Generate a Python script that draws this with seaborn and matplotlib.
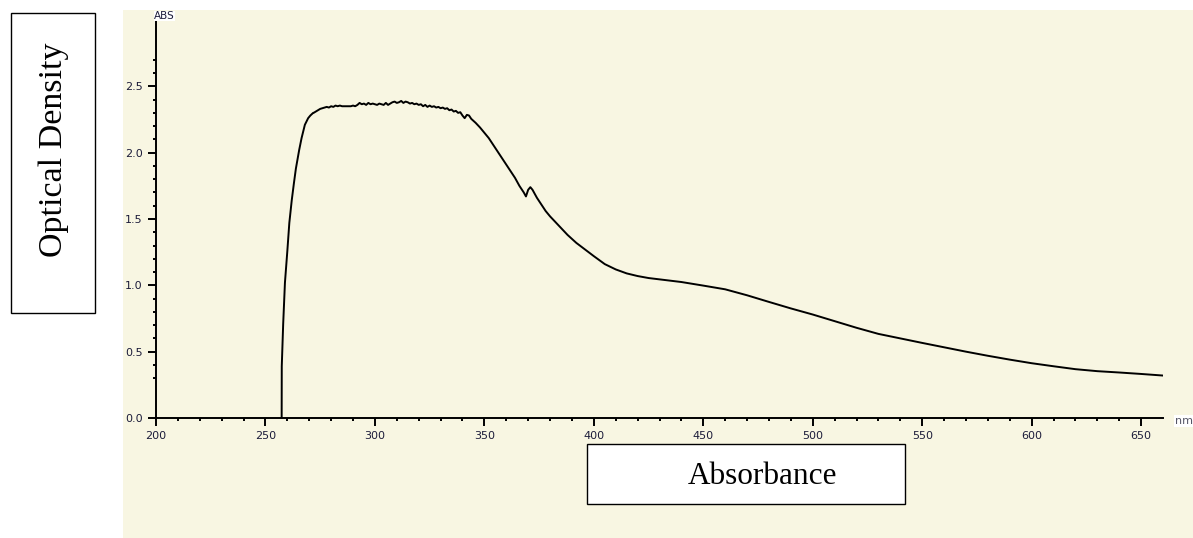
import numpy as np
import pandas as pd
import matplotlib
matplotlib.use("Agg")
import matplotlib.pyplot as plt
from matplotlib.patches import Rectangle
import seaborn as sns

# ---- data ----
wavelength = [257.4, 257.45, 258.1, 258.9, 260.0, 260.9, 262.0, 263.0, 263.9, 265.4,
              266.5, 268.0, 269.5, 270.5, 271.8,
              272, 273, 274, 275, 276, 277, 278, 279, 280, 281, 282, 283, 284, 285,
              286, 287, 288, 289, 290, 291, 292, 293, 294, 295, 296, 297, 298, 299,
              300, 301, 302, 303, 304, 305, 306, 307, 308, 309, 310, 311, 312, 313,
              314, 315, 316, 317, 318, 319, 320, 321, 322, 323, 324, 325, 326, 327,
              328, 329, 330, 331, 332, 333, 334, 335, 336, 337, 338, 339, 340, 341,
              342, 343, 344, 345, 346,
              348, 350, 352, 354, 356, 358, 360, 362, 364, 366, 368, 369, 370, 371,
              372, 374, 376, 378, 380, 384, 388, 392, 396, 400, 405, 410, 415, 420,
              425, 430, 440, 450, 460, 470, 480, 490, 500, 510, 520, 530, 540, 550,
              560, 570, 580, 590, 600, 610, 620, 630, 640, 650, 660]
absorbance = [0.0, 0.39, 0.71, 1.02, 1.26, 1.47, 1.64, 1.77, 1.88, 2.02,
              2.11, 2.21, 2.26, 2.28, 2.30,
              2.30, 2.31, 2.32, 2.33, 2.335, 2.34, 2.345, 2.34, 2.35, 2.345, 2.355, 2.35, 2.355, 2.35,
              2.35, 2.35, 2.35, 2.35, 2.355, 2.35, 2.36, 2.375, 2.365, 2.37, 2.36, 2.375, 2.365, 2.37,
              2.365, 2.36, 2.37, 2.365, 2.36, 2.375, 2.36, 2.37, 2.38, 2.385, 2.375, 2.38, 2.39, 2.375,
              2.385, 2.38, 2.37, 2.375, 2.365, 2.37, 2.36, 2.365, 2.35, 2.36, 2.345, 2.355, 2.345, 2.35,
              2.34, 2.345, 2.335, 2.34, 2.33, 2.335, 2.32, 2.325, 2.31, 2.315, 2.30, 2.305, 2.28, 2.26,
              2.285, 2.28, 2.255, 2.24, 2.225,
              2.19, 2.15, 2.11, 2.06, 2.01, 1.96, 1.91, 1.86, 1.81, 1.75, 1.70, 1.67, 1.72, 1.74,
              1.72, 1.66, 1.61, 1.56, 1.52, 1.45, 1.38, 1.32, 1.27, 1.22, 1.16, 1.12, 1.09, 1.07,
              1.055, 1.045, 1.025, 0.998, 0.97, 0.925, 0.875, 0.826, 0.78, 0.73, 0.68, 0.634, 0.60, 0.566,
              0.533, 0.50, 0.469, 0.44, 0.413, 0.39, 0.368, 0.353, 0.343, 0.332, 0.32]
x_ticks = [200, 250, 300, 350, 400, 450, 500, 550, 600, 650]
y_ticks = [0.0, 0.5, 1.0, 1.5, 2.0, 2.5]
y_label = "Optical Density"
x_label = "Absorbance"

df = pd.DataFrame({"wl": wavelength, "abs": absorbance})

W, H = 1193, 538
BEIGE = "#F8F6E2"
TICKC = "#1c1c3a"

sns.set_theme(style="white")
plt.rcParams["font.family"] = ["DejaVu Sans"]

fig = plt.figure(figsize=(W / 100, H / 100), dpi=100)
fig.patch.set_facecolor("white")

def fx(px):
    return px / W

def fy(py):
    return 1 - py / H

# beige panel
fig.add_artist(Rectangle((fx(123), 0), 1 - fx(123), fy(10), transform=fig.transFigure,
                         facecolor=BEIGE, edgecolor="none", zorder=0))

ax = fig.add_axes([fx(156), fy(418), fx(1163) - fx(156), fy(20) - fy(418)])
ax.set_facecolor(BEIGE)
sns.lineplot(data=df, x="wl", y="abs", ax=ax, color="black", linewidth=1.4,
             estimator=None, sort=False)
ax.set_xlim(200, 660)
ax.set_ylim(0, 3.0)
ax.set_xticks(x_ticks)
ax.set_xticklabels([str(t) for t in x_ticks])
ax.set_yticks(y_ticks)
ax.set_yticklabels([f"{t:.1f}" for t in y_ticks])
ax.set_xticks(np.arange(210, 660, 10), minor=True)
ax.set_yticks([v for v in np.arange(0.3, 2.75, 0.1) if abs(v * 2 - round(v * 2)) > 1e-6],
              minor=True)
ax.set_xlabel("")
ax.set_ylabel("")
for s in ["top", "right"]:
    ax.spines[s].set_visible(False)
for s in ["left", "bottom"]:
    ax.spines[s].set_color("black")
    ax.spines[s].set_linewidth(1.4)
ax.tick_params(axis="both", which="major", direction="out", length=6, width=1.4,
               color="black", labelsize=8, labelcolor=TICKC, pad=3.5,
               bottom=True, left=True)
ax.tick_params(axis="both", which="minor", direction="out", length=2.5, width=1.4,
               color="black", bottom=True, left=True)
ax.grid(False)

# ABS and nm labels
fig.text(fx(154), fy(16), "ABS", fontsize=7.5, color=TICKC, ha="left", va="center",
         bbox=dict(facecolor="white", edgecolor="none", pad=0.3))
fig.text(fx(1175), fy(421), "nm", fontsize=8, color="#556", ha="left", va="center",
         bbox=dict(facecolor="white", edgecolor="none", pad=0.5))

# Optical Density box
fig.add_artist(Rectangle((fx(11), fy(313)), fx(95) - fx(11), fy(13) - fy(313),
                         transform=fig.transFigure, facecolor="white",
                         edgecolor="black", linewidth=1.0, zorder=3))
fig.text(fx(54), fy(150), y_label, rotation=90, ha="center", va="center",
         fontsize=24.5, family=["Liberation Serif", "DejaVu Serif"], color="black", zorder=4)

# Absorbance box
fig.add_artist(Rectangle((fx(587), fy(504)), fx(905) - fx(587), fy(444) - fy(504),
                         transform=fig.transFigure, facecolor="white",
                         edgecolor="black", linewidth=1.0, zorder=3))
fig.text(fx(762), fy(476), x_label, ha="center", va="center",
         fontsize=22.5, family=["Liberation Serif", "DejaVu Serif"], color="black", zorder=4)

fig.savefig("out.png", dpi=100, facecolor="white")
